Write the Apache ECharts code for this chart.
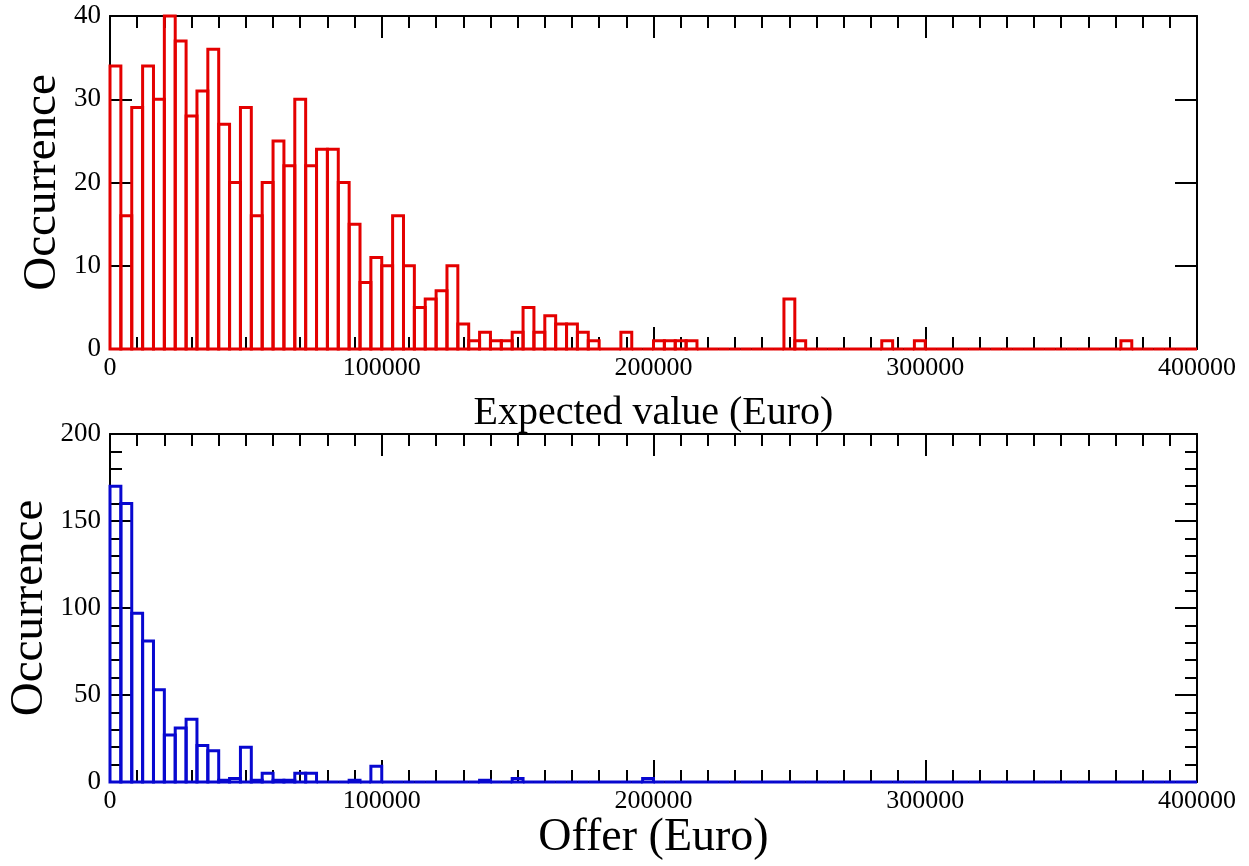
<!DOCTYPE html>
<html>
<head>
<meta charset="utf-8">
<title>Expected value and offer histograms</title>
<script src="https://cdn.jsdelivr.net/npm/echarts@6/dist/echarts.min.js"></script>
<style>
  html, body { margin: 0; padding: 0; background: #ffffff; }
  #chart { width: 1249px; height: 866px; }
</style>
</head>
<body>
<div id="chart"></div>
<script>
// Histogram bins: 100 bins of 4000 Euro each, covering 0 .. 400000
const binWidth = 4000;

// Counts per bin, expected value of the game
const expectedCounts = [
  34, 16, 29, 34, 30, 40, 37, 28, 31, 36, 27, 20, 29, 16, 20, 25, 22, 30, 22, 24, 24, 20, 15, 8, 11,
  10, 16, 10, 5, 6, 7, 10, 3, 1, 2, 1, 1, 2, 5, 2, 4, 3, 3, 2, 1, 0, 0, 2, 0, 0,
  1, 1, 1, 1, 0, 0, 0, 0, 0, 0, 0, 0, 6, 1, 0, 0, 0, 0, 0, 0, 0, 1, 0, 0, 1,
  0, 0, 0, 0, 0, 0, 0, 0, 0, 0, 0, 0, 0, 0, 0, 0, 0, 0, 1, 0, 0, 0, 0, 0, 0
];

// Counts per bin, offers made by the bank
const offerCounts = [
  170, 160, 97, 81, 53, 27, 31, 36, 21, 18, 1, 2, 20, 1, 5, 1, 1, 5, 5, 0, 0, 0, 1, 0, 9,
  0, 0, 0, 0, 0, 0, 0, 0, 0, 1, 0, 0, 2, 0, 0, 0, 0, 0, 0, 0, 0, 0, 0, 0, 2,
  0, 0, 0, 0, 0, 0, 0, 0, 0, 0, 0, 0, 0, 0, 0, 0, 0, 0, 0, 0, 0, 0, 0, 0, 0,
  0, 0, 0, 0, 0, 0, 0, 0, 0, 0, 0, 0, 0, 0, 0, 0, 0, 0, 0, 0, 0, 0, 0, 0, 0
];

// Axis settings
const xTicks = { min: 0, max: 400000, interval: 100000 };
const yTicksTop = { min: 0, max: 40, interval: 10 };
const yTicksBottom = { min: 0, max: 200, interval: 50 };
const xTitleTop = 'Expected value (Euro)';
const xTitleBottom = 'Offer (Euro)';
const yTitle = 'Occurrence';

const SERIF = '"Liberation Serif", "DejaVu Serif", serif';
const RED = '#e40000';
const BLUE = '#0808d0';

// Plot frames (pixels)
const panels = [
  { left: 110, right: 52, top: 16, height: 333, yTitleX: 43 },
  { left: 110, right: 52, top: 434, height: 348, yTitleX: 30 }
];

function binRows(counts) {
  return counts.map((n, i) => [i * binWidth, (i + 1) * binWidth, n]);
}

function outlineRenderer(color) {
  return function (params, api) {
    const lo = api.value(0), hi = api.value(1), n = api.value(2);
    const topLeft = api.coord([lo, n]);
    const bottomRight = api.coord([hi, 0]);
    return {
      type: 'rect',
      shape: {
        x: topLeft[0],
        y: topLeft[1],
        width: bottomRight[0] - topLeft[0],
        height: bottomRight[1] - topLeft[1]
      },
      style: { fill: 'none', stroke: color, lineWidth: 3 }
    };
  };
}

function xAxisPair(gridIndex, name, nameSize, nameGap) {
  const base = {
    gridIndex: gridIndex,
    type: 'value',
    min: xTicks.min,
    max: xTicks.max,
    interval: xTicks.interval,
    axisLine: { show: true, onZero: false, lineStyle: { color: '#000', width: 2 } },
    axisTick: { show: true, inside: true, length: 22, lineStyle: { color: '#000', width: 2 } },
    minorTick: { show: true, splitNumber: 10, length: 12, lineStyle: { color: '#000', width: 2 } },
    splitLine: { show: false },
    minorSplitLine: { show: false }
  };
  return [
    Object.assign({}, base, {
      position: 'bottom',
      name: name,
      nameLocation: 'middle',
      nameGap: nameGap,
      nameTextStyle: { fontFamily: SERIF, fontSize: nameSize, color: '#000' },
      axisLabel: { show: true, fontFamily: SERIF, fontSize: 26, color: '#000', margin: 6,
        formatter: v => String(v) }
    }),
    Object.assign({}, base, { position: 'top', axisLabel: { show: false } })
  ];
}

function yAxisPair(gridIndex, ticks, minorSplit) {
  const base = {
    gridIndex: gridIndex,
    type: 'value',
    min: ticks.min,
    max: ticks.max,
    interval: ticks.interval,
    axisLine: { show: true, onZero: false, lineStyle: { color: '#000', width: 2 } },
    axisTick: { show: true, inside: true, length: 22, lineStyle: { color: '#000', width: 2 } },
    minorTick: { show: minorSplit > 0, splitNumber: minorSplit || 5, length: 12, lineStyle: { color: '#000', width: 2 } },
    splitLine: { show: false },
    minorSplitLine: { show: false }
  };
  return [
    Object.assign({}, base, {
      position: 'left',
      axisLabel: { show: true, fontFamily: SERIF, fontSize: 27, color: '#000', margin: 9 }
    }),
    Object.assign({}, base, { position: 'right', axisLabel: { show: false } })
  ];
}

// Vertical "Occurrence" titles beside each panel
function yTitleGraphic(panel) {
  return {
    type: 'text',
    x: panel.yTitleX,
    y: panel.top + panel.height / 2,
    rotation: Math.PI / 2,
    silent: true,
    style: {
      text: yTitle,
      fontFamily: 'Liberation Serif',
      fontSize: 47,
      fill: '#000',
      align: 'center',
      verticalAlign: 'middle'
    }
  };
}

const chart = echarts.init(document.getElementById('chart'), null, { renderer: 'canvas' });

chart.setOption({
  animation: false,
  backgroundColor: '#ffffff',
  grid: panels.map(p => ({
    left: p.left, right: p.right, top: p.top, height: p.height,
    outerBoundsMode: 'none', containLabel: false
  })),
  xAxis: [].concat(
    xAxisPair(0, xTitleTop, 40, 44),
    xAxisPair(1, xTitleBottom, 46, 22)
  ),
  yAxis: [].concat(
    yAxisPair(0, yTicksTop, 0),
    yAxisPair(1, yTicksBottom, 5)
  ),
  graphic: panels.map(yTitleGraphic),
  series: [
    {
      type: 'custom',
      xAxisIndex: 0,
      yAxisIndex: 0,
      renderItem: outlineRenderer(RED),
      data: binRows(expectedCounts),
      encode: { x: [0, 1], y: 2 },
      z: 1
    },
    {
      type: 'custom',
      xAxisIndex: 2,
      yAxisIndex: 2,
      renderItem: outlineRenderer(BLUE),
      data: binRows(offerCounts),
      encode: { x: [0, 1], y: 2 },
      z: 1
    }
  ]
});
</script>
</body>
</html>
